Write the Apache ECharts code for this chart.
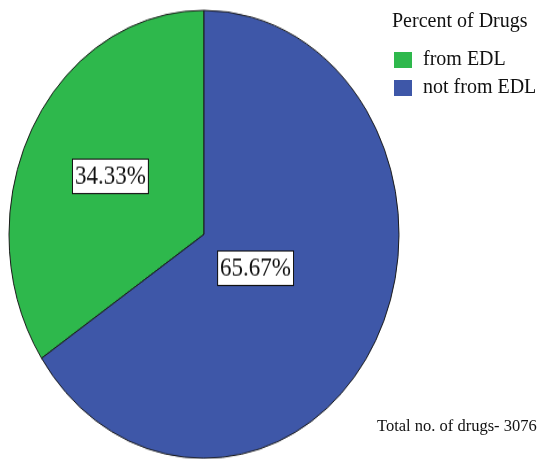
<!DOCTYPE html>
<html>
<head>
<meta charset="utf-8">
<script src="https://cdn.jsdelivr.net/npm/echarts@6/dist/echarts.min.js"></script>
<style>
  html, body { margin: 0; padding: 0; background: #ffffff; }
  #wrap { position: relative; width: 542px; height: 459px; overflow: hidden; }
  #base { position: absolute; left: 0; top: 0; width: 542px; height: 459px; }
  #pie { position: absolute; left: 0; top: 0; width: 542px; height: 400px;
         transform: scaleY(1.1487); transform-origin: 0 0; }
</style>
</head>
<body>
<div id="wrap">
  <div id="base"></div>
  <div id="pie"></div>
</div>
<script>
// ---- data ----
const categories = ['from EDL', 'not from EDL'];
const drugCounts = [1056, 2020];
const legendTitle = 'Percent of Drugs';
const totalLabel = 'Total no. of drugs- ';

// ---- styles ----
const colors = ['#2eb84c', '#3e57a8'];
const labelOffsets = [[-5, -3], [-37, -18]];
const FONT = '"Liberation Serif", "Times New Roman", serif';

const total = drugCounts.reduce((a, b) => a + b, 0);

// base chart: title, legend, total text (pie hidden beneath the ellipse)
const base = echarts.init(document.getElementById('base'), null, { renderer: 'canvas' });
base.setOption({
  backgroundColor: '#ffffff',
  animation: false,
  title: {
    text: legendTitle,
    left: 392, top: 12, padding: 0,
    textStyle: { fontFamily: FONT, fontSize: 20, fontWeight: 'normal', color: '#111' }
  },
  legend: {
    orient: 'vertical',
    left: 394, top: 50, padding: 0,
    itemWidth: 18, itemHeight: 16, itemGap: 8,
    icon: 'rect',
    data: categories,
    textStyle: { fontFamily: FONT, fontSize: 20, color: '#111', padding: [0, 0, 0, 6] }
  },
  graphic: [{
    type: 'text',
    left: 377, top: 418,
    style: { text: totalLabel + total, fontFamily: FONT, fontSize: 16.5, fill: '#111' }
  }],
  series: [{
    type: 'pie',
    center: [204, 234],
    radius: 80,
    startAngle: 90,
    clockwise: false,
    silent: true,
    label: { show: false },
    labelLine: { show: false },
    data: categories.map((c, i) => ({ name: c, value: drugCounts[i], itemStyle: { color: colors[i] } }))
  }]
});

// pie chart (vertically stretched to an ellipse)
const pie = echarts.init(document.getElementById('pie'), null, { renderer: 'canvas' });
pie.setOption({
  backgroundColor: 'transparent',
  animation: false,
  series: [{
    type: 'pie',
    center: [204, 204],
    radius: [0, 195],
    startAngle: 90,
    clockwise: false,
    silent: true,
    percentPrecision: 2,
    itemStyle: { borderColor: '#1a1a1a', borderWidth: 1 },
    labelLine: { show: false },
    label: {
      show: true,
      position: 'inside',
      formatter: '{d}%',
      fontFamily: FONT,
      fontSize: 23,
      lineHeight: 24,
      color: '#111',
      backgroundColor: '#ffffff',
      borderColor: '#111',
      borderWidth: 1,
      padding: [3, 2, 2, 2]
    },
    data: categories.map((c, i) => ({
      name: c,
      value: drugCounts[i],
      itemStyle: { color: colors[i] },
      label: { offset: labelOffsets[i] }
    }))
  }]
});
</script>
</body>
</html>
